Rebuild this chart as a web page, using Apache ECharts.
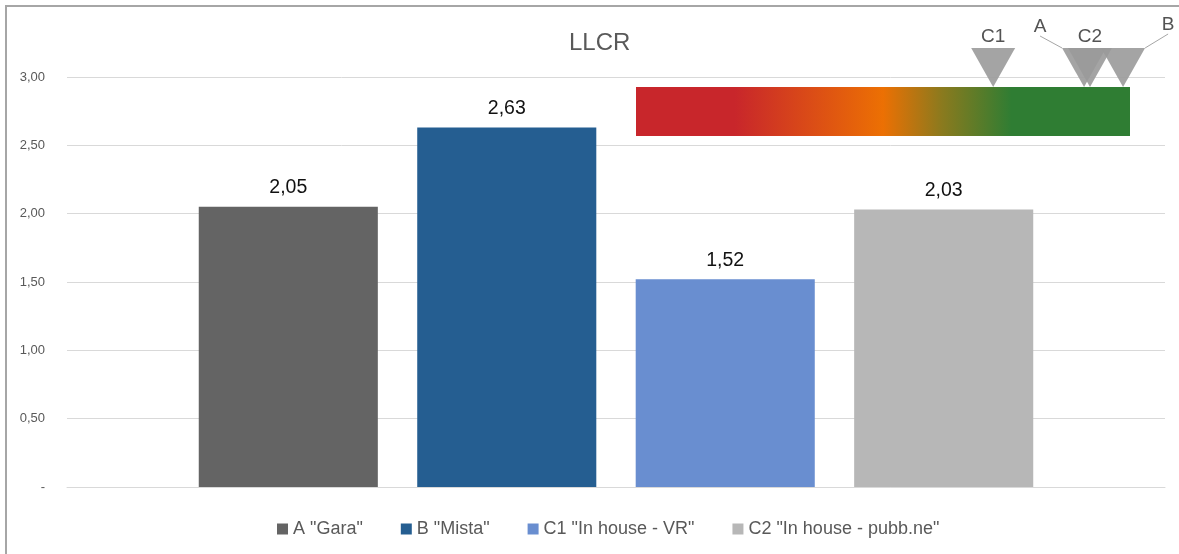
<!DOCTYPE html>
<html>
<head>
<meta charset="utf-8">
<script src="https://cdn.jsdelivr.net/npm/echarts@6/dist/echarts.min.js"></script>
<style>
  html, body { margin: 0; padding: 0; background: #fff; }
  #chart { width: 1179px; height: 554px; }
</style>
</head>
<body>
<div id="chart"></div>
<script>
// dati LLCR
var categories = ['LLCR'];
var seriesNames = ['A "Gara"', 'B "Mista"', 'C1 "In house - VR"', 'C2 "In house - pubb.ne"'];
var values = [2.05, 2.63, 1.52, 2.03];
var colors = ['#646464', '#255e91', '#698ed0', '#b7b7b7'];
var yTicks = [0, 0.5, 1, 1.5, 2, 2.5, 3];

// scala colorata in alto a destra (posizione % dei marker lungo la barra)
var scaleName = ['scala'];
var scaleFull = [100];
var markerLabels = ['C1', 'A', 'C2', 'B'];
var markerPos = [72.3, 90.7, 91.9, 98.6];
var markerLabelShift = [null, [-44, -10], null, [45, -12]];

var FONT = '"Liberation Sans", Arial, sans-serif';

function fmt(v) {
  return v.toFixed(2).replace('.', ',');
}

var chart = echarts.init(document.getElementById('chart'));

var series = seriesNames.map(function (name, i) {
  return {
    name: name,
    type: 'bar',
    xAxisIndex: 0,
    yAxisIndex: 0,
    barGap: '22%',
    barCategoryGap: '24%',
    itemStyle: { color: colors[i] },
    label: {
      show: true,
      position: 'top',
      distance: 9,
      color: '#111',
      fontSize: 19.5,
      fontFamily: FONT,
      formatter: function (p) { return fmt(p.value); }
    },
    data: [values[i]]
  };
});

// barra gradiente
series.push({
  type: 'bar',
  xAxisIndex: 1,
  yAxisIndex: 1,
  barWidth: '100%',
  silent: true,
  itemStyle: {
    color: new echarts.graphic.LinearGradient(0, 0, 1, 0, [
      { offset: 0, color: '#c8262b' },
      { offset: 0.2, color: '#c8262b' },
      { offset: 0.5, color: '#ec7003' },
      { offset: 0.62, color: '#8a7a1e' },
      { offset: 0.76, color: '#2f7d33' },
      { offset: 1, color: '#2f7d33' }
    ])
  },
  data: scaleFull
});

// triangoli
series.push({
  type: 'scatter',
  xAxisIndex: 1,
  yAxisIndex: 1,
  symbol: 'path://M0,0 L44,0 L22,39 Z',
  symbolSize: [44, 39],
  symbolOffset: [0, -44],
  silent: true,
  itemStyle: { color: '#9a9a9a', opacity: 0.9 },
  label: {
    show: true,
    position: 'top',
    distance: 2,
    color: '#404040',
    fontSize: 19,
    fontFamily: FONT,
    formatter: function (p) { return markerLabels[p.dataIndex]; }
  },
  labelLine: { show: true, lineStyle: { color: '#a6a6a6', width: 1 } },
  labelLayout: function (p) {
    var s = markerLabelShift[p.dataIndex];
    return s ? { dx: s[0], dy: s[1] } : {};
  },
  data: markerPos.map(function (x, i) {
    return {
      value: [x, scaleName[0]],
      labelLine: { show: !!markerLabelShift[i] }
    };
  })
});

chart.setOption({
  backgroundColor: '#fff',
  animation: false,
  title: {
    text: 'LLCR',
    left: 564,
    top: 26,
    textStyle: { color: '#595959', fontSize: 24, fontWeight: 'normal', fontFamily: FONT }
  },
  legend: {
    bottom: 11,
    left: 272,
    itemWidth: 11,
    itemHeight: 11,
    itemGap: 38,
    icon: 'rect',
    textStyle: { color: '#595959', fontSize: 18, fontFamily: FONT },
    data: seriesNames
  },
  graphic: [{
    type: 'rect',
    shape: { x: 6, y: 6, width: 1180, height: 560 },
    style: { fill: null, stroke: '#a6a6a6', lineWidth: 2 },
    silent: true
  }],
  grid: [
    { left: 67, right: 14, top: 77, bottom: 67 },
    { left: 636, right: 49, top: 87, height: 49 }
  ],
  xAxis: [{
    type: 'category',
    gridIndex: 0,
    data: categories,
    axisLine: { show: true, lineStyle: { color: '#d9d9d9' } },
    axisTick: { show: false },
    axisLabel: { show: false }
  }, {
    type: 'value',
    gridIndex: 1,
    min: 0,
    max: 100,
    show: false
  }],
  yAxis: [{
    type: 'value',
    gridIndex: 0,
    min: yTicks[0],
    max: yTicks[yTicks.length - 1],
    interval: 0.5,
    axisLine: { show: false },
    axisTick: { show: false },
    splitLine: { lineStyle: { color: '#d9d9d9' } },
    axisLabel: {
      color: '#595959',
      fontSize: 13,
      fontFamily: FONT,
      margin: 22,
      formatter: function (v) { return v === 0 ? '-' : fmt(v); }
    }
  }, {
    type: 'category',
    gridIndex: 1,
    data: scaleName,
    show: false
  }],
  series: series
});
</script>
</body>
</html>
